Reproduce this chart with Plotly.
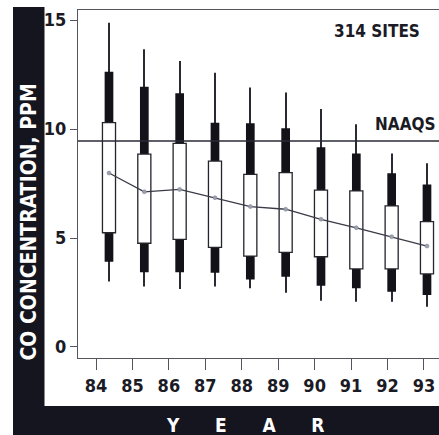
import plotly.graph_objects as go

# ---------------- data ----------------
years = [84, 85, 86, 87, 88, 89, 90, 91, 92, 93]
tick_labels = ["84", "85", "86", "87", "88", "89", "90", "91", "92", "93"]
p05 = [3.00, 2.77, 2.66, 2.77, 2.69, 2.49, 2.12, 2.08, 2.08, 1.85]
p10 = [3.91, 3.43, 3.43, 3.41, 3.10, 3.22, 2.81, 2.69, 2.54, 2.39]
p25 = [5.24, 4.76, 4.94, 4.57, 4.17, 4.34, 4.14, 3.58, 3.58, 3.35]
p75 = [10.29, 8.85, 9.34, 8.53, 7.92, 8.00, 7.20, 7.16, 6.47, 5.75]
p90 = [12.63, 11.94, 11.64, 10.29, 10.26, 10.03, 9.16, 8.88, 7.97, 7.46]
p95 = [14.88, 13.66, 13.12, 12.58, 11.91, 11.67, 10.92, 10.22, 8.88, 8.43]
means = [7.98, 7.12, 7.23, 6.85, 6.44, 6.32, 5.86, 5.47, 5.06, 4.63]
naaqs_level = 9.45
sites_label = "314 SITES"
naaqs_label = "NAAQS"
y_title = "CO CONCENTRATION, PPM"
x_title = "YEAR"

# ---------------- layout constants ----------------
W, H = 439, 435
ML, MR, MT, MB = 78, 0, 10, 77
PW, PH = W - ML - MR, H - MT - MB
FONT = "DejaVu Sans Condensed, DejaVu Sans, sans-serif"
INK = "#1b1b26"
BAND = "#15151f"


def px(xp):
    return (xp - ML) / PW


def py(yp):
    return (H - MB - yp) / PH


def span(hi, lo):
    return [h - l for h, l in zip(hi, lo)]


fig = go.Figure()

# whiskers (thin bars)
fig.add_trace(go.Bar(x=years, y=span(p95, p05), base=p05, width=0.036,
                     marker=dict(color="#2a2a33", line=dict(width=0)),
                     xaxis="x2", hoverinfo="skip"))
# 10th-90th black bars
fig.add_trace(go.Bar(x=years, y=span(p90, p10), base=p10, width=0.246,
                     marker=dict(color="#121218", line=dict(width=0)),
                     xaxis="x2", hoverinfo="skip"))
# 25th-75th white boxes
fig.add_trace(go.Bar(x=years, y=span(p75, p25), base=p25, width=0.37,
                     marker=dict(color="white", line=dict(color="#24242c", width=1.3)),
                     xaxis="x2", hoverinfo="skip"))
# mean line
fig.add_trace(go.Scatter(x=years, y=means, mode="lines+markers", xaxis="x2",
                         line=dict(color="#3a3a48", width=1.3),
                         marker=dict(color="#9aa0b0", size=4,
                                     line=dict(color="#7a8090", width=0.5)),
                         hoverinfo="skip"))
# invisible helper so the labelled year axis is drawn
fig.add_trace(go.Scatter(x=years, y=means, mode="none", xaxis="x", yaxis="y",
                         hoverinfo="skip"))

shapes = [
    # left black band
    dict(type="rect", xref="paper", yref="paper", x0=px(13), x1=px(44.5),
         y0=py(H + 2), y1=py(7), fillcolor=BAND, line=dict(width=0), layer="below"),
    # bottom black band
    dict(type="rect", xref="paper", yref="paper", x0=px(13), x1=px(W + 2),
         y0=py(H + 2), y1=py(406), fillcolor=BAND, line=dict(width=0), layer="below"),
    # NAAQS line
    dict(type="line", xref="paper", yref="y", x0=0, x1=1, y0=naaqs_level, y1=naaqs_level,
         line=dict(color="#2a2a34", width=1.3), layer="above"),
]

annotations = [
    dict(text=sites_label, xref="paper", yref="paper", x=px(422), y=py(30.5),
         xanchor="right", yanchor="middle", showarrow=False,
         font=dict(family=FONT, size=17, color=INK, weight="bold")),
    dict(text=naaqs_label, xref="paper", yref="y", x=px(438), y=naaqs_level,
         xanchor="right", yanchor="bottom", yshift=5, showarrow=False,
         font=dict(family=FONT, size=17, color=INK, weight="bold")),
    dict(text=y_title, xref="paper", yref="paper", x=px(28.5), y=py(222),
         xanchor="center", yanchor="middle", textangle=-90, showarrow=False,
         font=dict(family=FONT, size=21, color="white", weight="bold")),
    dict(text=("\u00a0" * 6).join(list(x_title)), xref="paper", yref="paper",
         x=px(245), y=py(425), xanchor="center", yanchor="middle", showarrow=False,
         font=dict(family=FONT, size=19, color="white", weight="bold")),
]

fig.update_layout(
    width=W, height=H,
    margin=dict(l=ML, r=MR, t=MT, b=MB, pad=0),
    paper_bgcolor="white", plot_bgcolor="white",
    barmode="overlay", showlegend=False,
    shapes=shapes, annotations=annotations,
    xaxis=dict(range=[83.506, 93.413], tickvals=years, ticktext=tick_labels,
               showgrid=False, zeroline=False, showline=True, mirror=True,
               linecolor="#55555f", linewidth=1.2,
               ticks="outside", ticklen=11, tickwidth=1.2, tickcolor="#55555f",
               tickfont=dict(family=FONT, size=18, color=INK, weight="bold"),
               automargin=False, fixedrange=True),
    xaxis2=dict(range=[83.123, 93.34], overlaying="x", visible=False,
                automargin=False, fixedrange=True),
    yaxis=dict(range=[-0.505, 15.46], tickvals=[0, 5, 10, 15],
               showgrid=False, zeroline=False, showline=True, mirror=False,
               linecolor="#55555f", linewidth=1.2,
               ticks="outside", ticklen=7, tickwidth=1.2, tickcolor="#55555f",
               tickfont=dict(family=FONT, size=18, color=INK, weight="bold"),
               automargin=False, fixedrange=True),
)

fig.write_html("out.html",
               config={"displayModeBar": False},
               post_script="document.body.style.margin='0';document.body.style.padding='0';")
